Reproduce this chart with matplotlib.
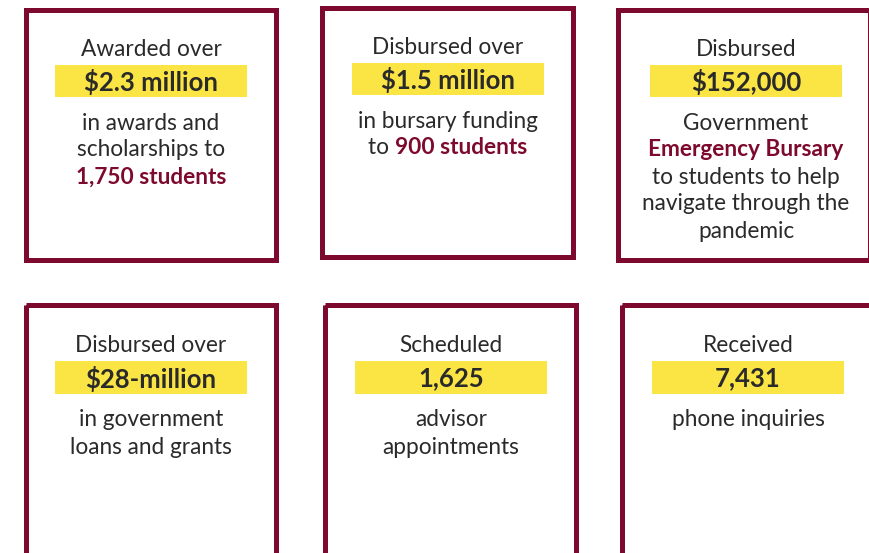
import matplotlib.pyplot as plt
from matplotlib.patches import Rectangle

maroon = '#7d0a2e'
yellow = '#fbe545'
dark = '#2a2a2a'

# box layout in pixels: left, top, right, bottom (outer edge of border)
boxes = [(23, 7, 278, 262), (319, 5, 575, 259), (615, 7, 872, 262),
         (23, 302, 278, 560), (322, 302, 578, 560), (619, 302, 874, 560)]
bars = [(55, 65, 247, 97), (352, 63, 544, 95), (650, 65, 842, 97),
        (55, 361, 247, 394), (355, 361, 547, 394), (652, 361, 844, 394)]

headers = ['Awarded over', 'Disbursed over', 'Disbursed',
           'Disbursed over', 'Scheduled', 'Received']
values = ['$2.3 million', '$1.5 million', '$152,000',
          '$28-million', '1,625', '7,431']
# body lines: list of (plain, bold) pieces per line
bodies = [
    [('in awards and', ''), ('scholarships to', ''), ('', '1,750 students')],
    [('in bursary funding', ''), ('to ', '900 students')],
    [('Government', ''), ('', 'Emergency Bursary'), ('to students to help', ''),
     ('navigate through the', ''), ('pandemic', '')],
    [('in government', ''), ('loans and grants', '')],
    [('advisor', ''), ('appointments', '')],
    [('phone inquiries', '')],
]

W, H = 869, 553
fig = plt.figure(figsize=(W / 100, H / 100), dpi=100)
ax = fig.add_axes([0, 0, 1, 1])
ax.set_xlim(0, W)
ax.set_ylim(H, 0)
ax.axis('off')

font = 'Lato'
fs = 16.3
bw = 5  # border px

for i in range(6):
    l, t, r, b = boxes[i]
    ax.add_patch(Rectangle((l + bw / 2, t + bw / 2), r - l - bw, b - t - bw,
                           fill=False, edgecolor=maroon, linewidth=bw * 0.72))
    bl, bt, br, bb = bars[i]
    ax.add_patch(Rectangle((bl, bt), br - bl, bb - bt, facecolor=yellow,
                           edgecolor='none'))
    cx = (bl + br) / 2
    ax.text(cx, bt - 16, headers[i], ha='center', va='center', fontsize=fs,
            color=dark, family=font)
    ax.text(cx, (bt + bb) / 2 + 1, values[i], ha='center', va='center',
            fontsize=18.5, fontweight='bold', color=dark, family=font)
    y = bb + 26
    for plain, bold in bodies[i]:
        if plain and bold:
            t1 = ax.text(0, y, plain, ha='left', va='center', fontsize=fs,
                         color=dark, family=font)
            t2 = ax.text(0, y, bold, ha='left', va='center', fontsize=fs,
                         fontweight='bold', color=maroon, family=font)
            fig.canvas.draw()
            r = fig.canvas.get_renderer()
            w1 = t1.get_window_extent(r).width
            w2 = t2.get_window_extent(r).width
            x0 = cx - (w1 + w2) / 2
            t1.set_x(x0)
            t2.set_x(x0 + w1)
        elif bold:
            ax.text(cx, y, bold, ha='center', va='center', fontsize=fs,
                    fontweight='bold', color=maroon, family=font)
        else:
            ax.text(cx, y, plain, ha='center', va='center', fontsize=fs,
                    color=dark, family=font)
        y += 27

fig.savefig('out.png', dpi=100)
